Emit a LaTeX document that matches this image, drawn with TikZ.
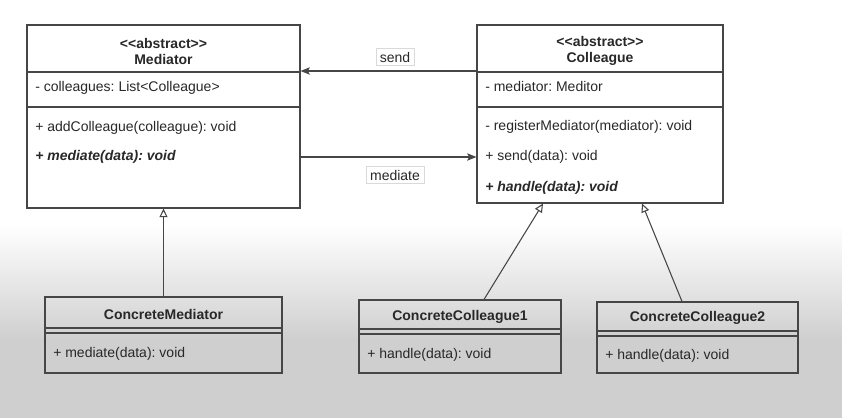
\documentclass[tikz,border=0pt]{standalone}
\usepackage{fontspec}
\setmainfont{Liberation Sans}
\usetikzlibrary{fit,arrows.meta}
\definecolor{bggray}{RGB}{207,207,207}
\definecolor{linegray}{RGB}{70,70,70}
\definecolor{txtgray}{RGB}{40,40,40}
\frenchspacing
\begin{document}
\begin{tikzpicture}[x=0.75pt,y=-0.75pt,
  every node/.style={font=\fontsize{10.5}{12}\selectfont, text=txtgray},
  cls/.style={draw=linegray, line width=0.8pt, inner sep=0pt},
  mem/.style={anchor=west, inner sep=0pt, text height=8pt, text depth=2.5pt},
  absmem/.style={mem, font=\fontsize{10.5}{12}\selectfont\bfseries\itshape},
  ttl/.style={inner sep=0pt, align=center, font=\fontsize{10.5}{12}\selectfont\bfseries},
  sep/.style={draw=linegray, line width=0.8pt},
  msg/.style={draw=linegray, line width=0.8pt, -{Stealth[length=7pt,width=5.5pt,inset=1.5pt]}},
  gen/.style={draw=linegray, line width=0.8pt, -{Triangle[open,length=6.5pt,width=6pt,fill=white]}},
  lbl/.style={draw=black!15, fill=white, inner xsep=3pt, inner ysep=2.5pt}]
\useasboundingbox (0,0) rectangle (842,418);
\fill[white] (0,0) rectangle (842,225);
\shade[top color=white, bottom color=bggray] (0,225) rectangle (842,340);
\fill[bggray] (0,340) rectangle (842,418);

% abstract classes
\node[cls, fit={(27,25) (300,208)}] (med) {};
\node[ttl] (medt) at (163.5,51) {\textless{}\textless{}abstract\textgreater{}\textgreater\\Mediator};
\draw[sep] (27,72) -- (300,72);
\draw[sep] (27,107) -- (300,107);
\node[mem] (meda) at (35,88) {- colleagues: List\textless Colleague\textgreater};
\node[mem] (medm1) at (35,128) {+ addColleague(colleague): void};
\node[absmem] (medm2) at (35,157) {+ mediate(data): void};

\node[cls, fit={(477,25) (723,203)}] (col) {};
\node[ttl] (colt) at (600,51) {\textless{}\textless{}abstract\textgreater{}\textgreater\\Colleague};
\draw[sep] (477,72) -- (723,72);
\draw[sep] (477,107) -- (723,107);
\node[mem] (cola) at (485,88) {- mediator: Meditor};
\node[mem] (colm1) at (485,127) {- registerMediator(mediator): void};
\node[mem] (colm2) at (485,157) {+ send(data): void};
\node[absmem] (colm3) at (485,188) {+ handle(data): void};

% concrete classes
\node[cls, fit={(45,297) (282,373)}] (cmed) {};
\node[ttl] (cmedt) at (163.5,314) {ConcreteMediator};
\draw[sep] (45,328) -- (282,328);
\draw[sep] (45,333) -- (282,333);
\node[mem] (cmedm) at (53,354) {+ mediate(data): void};

\node[cls, fit={(359,300) (561,373)}] (cc1) {};
\node[ttl] (cc1t) at (460,317) {ConcreteColleague1};
\draw[sep] (359,329) -- (561,329);
\draw[sep] (359,334) -- (561,334);
\node[mem] (cc1m) at (367,355) {+ handle(data): void};

\node[cls, fit={(597,302) (798,373)}] (cc2) {};
\node[ttl] (cc2t) at (697.5,318) {ConcreteColleague2};
\draw[sep] (597,331) -- (798,331);
\draw[sep] (597,336) -- (798,336);
\node[mem] (cc2m) at (605,356) {+ handle(data): void};

% connectors
\coordinate (sendy) at (0,71);
\coordinate (mediy) at (0,157);
\draw[msg] (col.west |- sendy) -- (med.east |- sendy);
\draw[msg] (med.east |- mediy) -- (col.west |- mediy);
\node[lbl] (sendl) at (395,57) {send};
\node[lbl] (medil) at (395,175) {mediate};
\draw[gen] (cmed.north) -- (med.south);
\draw[gen] (cc1.north -| 484,0) -- (col.south -| 543,0);
\draw[gen] (cc2.north -| 682,0) -- (col.south -| 642,0);
\end{tikzpicture}
\end{document}
